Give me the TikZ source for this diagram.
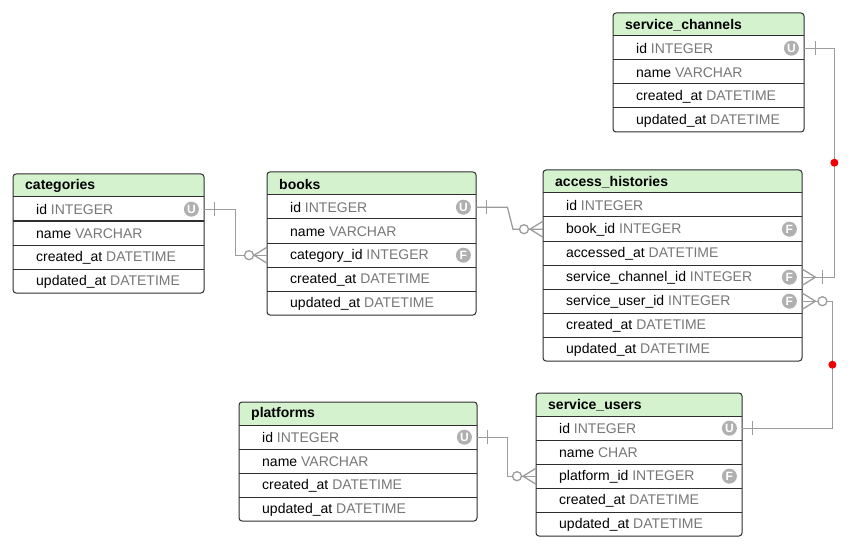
\documentclass[tikz,border=0pt]{standalone}
\usepackage{fontspec}
\setmainfont{Liberation Sans}
\usetikzlibrary{calc}
\definecolor{hdr}{HTML}{D5F2CF}
\definecolor{typ}{HTML}{777777}
\definecolor{con}{HTML}{9C9C9C}
\definecolor{ico}{HTML}{B0B0B0}
\definecolor{edgec}{HTML}{2E2E2E}
\definecolor{dotred}{HTML}{F00000}
\tikzset{
  con/.style={draw=con, line width=1.3pt},
  tborder/.style={draw=edgec, line width=1pt},
  titletext/.style={anchor=west, inner sep=0pt, font=\fontsize{14}{16}\selectfont\bfseries},
  fieldtext/.style={anchor=west, inner sep=0pt, font=\fontsize{14}{16}\selectfont},
  rowbox/.style={anchor=north west, inner sep=0pt, minimum height=24pt},
  keyicon/.style={circle, fill=ico, minimum size=15pt, inner sep=0pt, text=white, font=\fontsize{12}{12}\selectfont\bfseries},
  reddot/.style={circle, fill=dotred, minimum size=8pt, inner sep=0pt},
}
% #1 id, #2 x0, #3 y0, #4 width, #5 rows, #6 title
\newcommand\erdtable[6]{%
  \pgfmathsetmacro\erdheight{23+24*#5}%
  \fill[white, rounded corners=3pt] (#2,#3) rectangle ++(#4,\erdheight);
  \fill[hdr] (#2,#3+23) [rounded corners=3pt] -- (#2,#3) -- (#2+#4,#3) [sharp corners] -- (#2+#4,#3+23) -- cycle;
  \foreach \i in {1,...,#5} \draw[tborder] (#2,#3-1+24*\i) -- ++(#4,0);
  \draw[tborder, rounded corners=3pt] (#2,#3) rectangle ++(#4,\erdheight);
  \node[titletext] (#1-h) at (#2+12,#3+12) {#6};
}
% #1 id, #2 row, #3 x0, #4 y0, #5 width, #6 field, #7 type, #8 icon
\newcommand\erow[8]{%
  \node[rowbox, minimum width=#5pt] (#1-#2) at (#3,#4+23+24*#2-24) {};
  \node[fieldtext] (#1-#2-t) at ([xshift=23pt,yshift=-0.5pt]#1-#2.west) {#6 \textcolor{typ}{#7}};
  \if\relax\detokenize{#8}\relax\else
    \node[keyicon] (#1-#2-k) at ([xshift=-13pt]#1-#2.east) {#8};
  \fi
}
\newcommand\manyend[2]{%
  \draw[con] ($(#1)+(0,-8)$) -- ($(#1)+(#2*13,0)$) -- ($(#1)+(0,8)$);
}
\newcommand\zeroend[3]{%
  \draw[con, fill=white] ($(#1)+(#2*#3,0)$) circle (4.5pt);
}
\newcommand\barend[3]{%
  \draw[con] ($(#1)+(#2*#3,-7)$) -- ($(#1)+(#2*#3,7)$);
}
\begin{document}
\begin{tikzpicture}[x=1pt, y=-1pt]
\useasboundingbox (0,0) rectangle (858,553);

% service_channels
\erdtable{sc}{613}{13}{191}{4}{service\_channels}
\erow{sc}{1}{613}{13}{191}{id}{INTEGER}{U}
\erow{sc}{2}{613}{13}{191}{name}{VARCHAR}{}
\erow{sc}{3}{613}{13}{191}{created\_at}{DATETIME}{}
\erow{sc}{4}{613}{13}{191}{updated\_at}{DATETIME}{}

% categories
\erdtable{cat}{13}{174}{191}{4}{categories}
\erow{cat}{1}{13}{174}{191}{id}{INTEGER}{U}
\erow{cat}{2}{13}{174}{191}{name}{VARCHAR}{}
\erow{cat}{3}{13}{174}{191}{created\_at}{DATETIME}{}
\erow{cat}{4}{13}{174}{191}{updated\_at}{DATETIME}{}

% books
\erdtable{books}{267}{172}{209}{5}{books}
\erow{books}{1}{267}{172}{209}{id}{INTEGER}{U}
\erow{books}{2}{267}{172}{209}{name}{VARCHAR}{}
\erow{books}{3}{267}{172}{209}{category\_id}{INTEGER}{F}
\erow{books}{4}{267}{172}{209}{created\_at}{DATETIME}{}
\erow{books}{5}{267}{172}{209}{updated\_at}{DATETIME}{}

% access_histories
\erdtable{ah}{543}{170}{259}{7}{access\_histories}
\erow{ah}{1}{543}{170}{259}{id}{INTEGER}{}
\erow{ah}{2}{543}{170}{259}{book\_id}{INTEGER}{F}
\erow{ah}{3}{543}{170}{259}{accessed\_at}{DATETIME}{}
\erow{ah}{4}{543}{170}{259}{service\_channel\_id}{INTEGER}{F}
\erow{ah}{5}{543}{170}{259}{service\_user\_id}{INTEGER}{F}
\erow{ah}{6}{543}{170}{259}{created\_at}{DATETIME}{}
\erow{ah}{7}{543}{170}{259}{updated\_at}{DATETIME}{}

% platforms
\erdtable{pl}{239}{402}{238}{4}{platforms}
\erow{pl}{1}{239}{402}{238}{id}{INTEGER}{U}
\erow{pl}{2}{239}{402}{238}{name}{VARCHAR}{}
\erow{pl}{3}{239}{402}{238}{created\_at}{DATETIME}{}
\erow{pl}{4}{239}{402}{238}{updated\_at}{DATETIME}{}

% service_users
\erdtable{su}{536}{393}{206}{5}{service\_users}
\erow{su}{1}{536}{393}{206}{id}{INTEGER}{U}
\erow{su}{2}{536}{393}{206}{name}{CHAR}{}
\erow{su}{3}{536}{393}{206}{platform\_id}{INTEGER}{F}
\erow{su}{4}{536}{393}{206}{created\_at}{DATETIME}{}
\erow{su}{5}{536}{393}{206}{updated\_at}{DATETIME}{}

% connectors
\draw[con] (cat-1.east) -- ++(31,0) |- (books-3.west);
\barend{cat-1.east}{1}{10}
\manyend{books-3.west}{-1}
\zeroend{books-3.west}{-1}{18}

\draw[con] (books-1.east) -- ++(31,0) -- ($(ah-2.west)+(-30,0)$) -- (ah-2.west);
\barend{books-1.east}{1}{10}
\manyend{ah-2.west}{-1}
\zeroend{ah-2.west}{-1}{19}

\draw[con] (sc-1.east) -- ++(30,0) |- node[reddot, pos=0.25] (dot1) {} (ah-4.east);
\barend{sc-1.east}{1}{11}
\manyend{ah-4.east}{1}
\barend{ah-4.east}{1}{20}

\draw[con] (su-1.east) -- ++(90,0) |- node[reddot, pos=0.25] (dot2) {} (ah-5.east);
\barend{su-1.east}{1}{10}
\manyend{ah-5.east}{1}
\zeroend{ah-5.east}{1}{20}

\draw[con] (pl-1.east) -- ++(30,0) |- (su-3.west);
\barend{pl-1.east}{1}{10}
\manyend{su-3.west}{-1}
\zeroend{su-3.west}{-1}{19}
\end{tikzpicture}
\end{document}
